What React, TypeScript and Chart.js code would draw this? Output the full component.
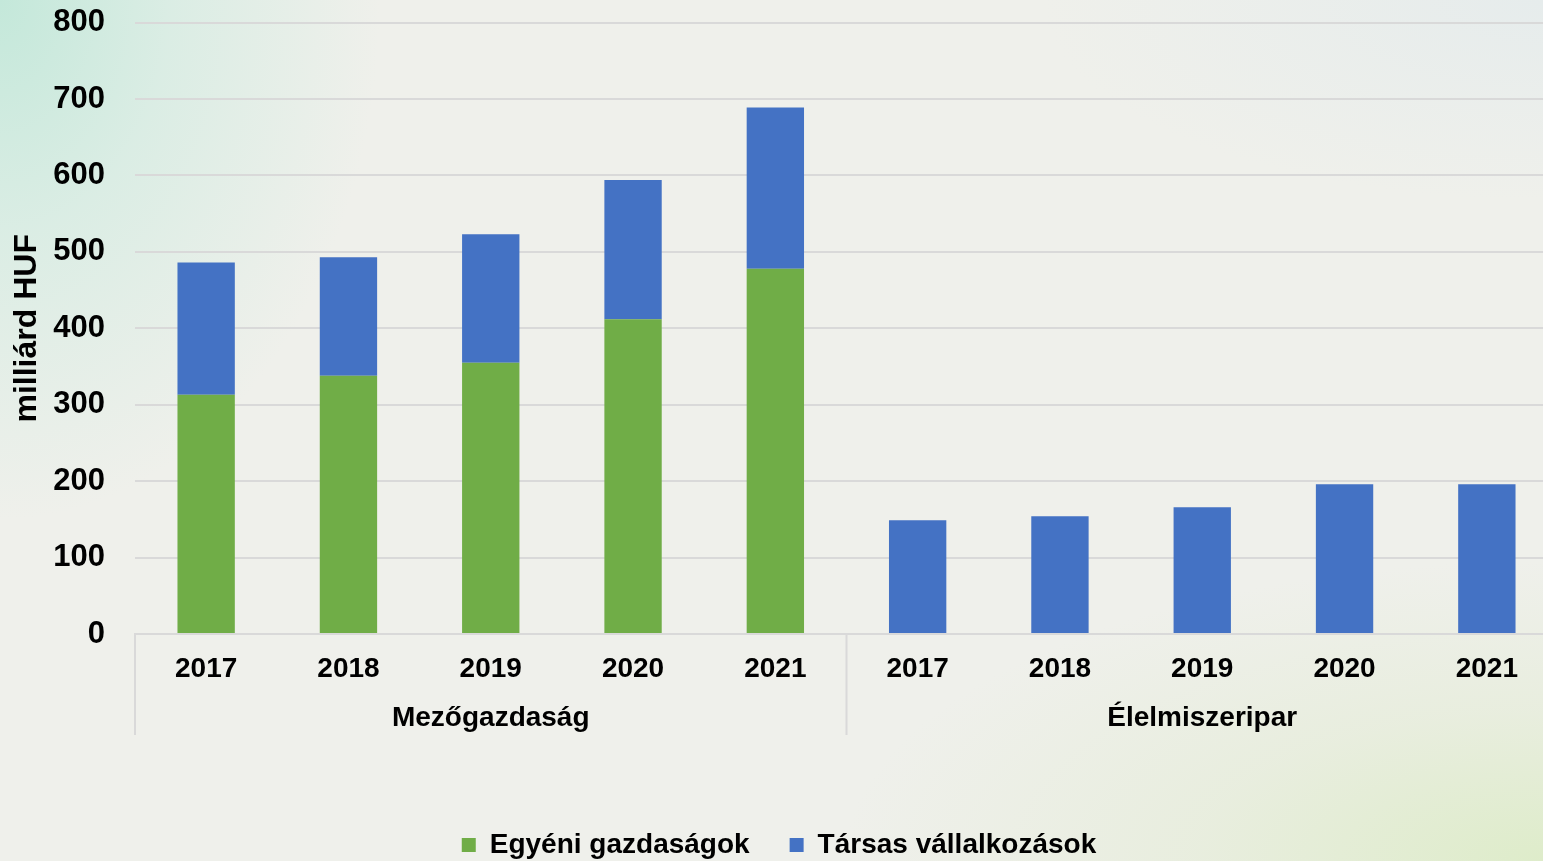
import React, { useEffect, useRef } from "react";
import { Chart, registerables } from "chart.js";

Chart.register(...registerables);

const years = ["2017", "2018", "2019", "2020", "2021"];
const groupNames = ["Mezőgazdaság", "Élelmiszeripar"];
const categories = [...years, ...years];
const egyeniGazdasagok = [313, 338, 355, 412, 478, 0, 0, 0, 0, 0];
const tarsasVallalkozasok = [173, 155, 168, 182, 211, 149, 154, 166, 196, 196];
const seriesNames = ["Egyéni gazdaságok", "Társas vállalkozások"];
const yTicks = [0, 100, 200, 300, 400, 500, 600, 700, 800];

const FONT = "'Liberation Sans', Arial, sans-serif";
const GRID = "#d9d9d9";

const SHIFT = 26;
const W = 1558;
const H = 869 + SHIFT;

const groupPlugin = {
  id: "groupLabels",
  afterDraw(chart: any) {
    const xs = chart.scales.x;
    const ctx = chart.ctx;
    const bottom = chart.chartArea.bottom;
    const n = categories.length;
    const half = (xs.getPixelForValue(1) - xs.getPixelForValue(0)) / 2;
    const per = n / groupNames.length;
    ctx.save();
    ctx.strokeStyle = GRID;
    ctx.lineWidth = 2;
    for (let g = 0; g <= groupNames.length; g++) {
      const px = g * per >= n ? xs.getPixelForValue(n - 1) + half : xs.getPixelForValue(g * per) - half;
      ctx.beginPath();
      ctx.moveTo(px, bottom);
      ctx.lineTo(px, bottom + 101);
      ctx.stroke();
    }
    ctx.fillStyle = "#000";
    ctx.font = `bold 28px ${FONT}`;
    ctx.textAlign = "center";
    ctx.textBaseline = "middle";
    groupNames.forEach((name, g) => {
      const a = xs.getPixelForValue(g * per) - half;
      const b = xs.getPixelForValue(g * per + per - 1) + half;
      ctx.fillText(name, (a + b) / 2, bottom + 84);
    });
    ctx.restore();
  },
};

export default function App() {
  const ref = useRef<HTMLCanvasElement | null>(null);
  useEffect(() => {
    if (!ref.current) return;
    const chart = new Chart(ref.current, {
      type: "bar",
      data: {
        labels: categories,
        datasets: [
          {
            label: seriesNames[0],
            data: egyeniGazdasagok,
            backgroundColor: "#70ad47",
            barPercentage: 0.403,
            categoryPercentage: 1,
          },
          {
            label: seriesNames[1],
            data: tarsasVallalkozasok,
            backgroundColor: "#4472c4",
            barPercentage: 0.403,
            categoryPercentage: 1,
          },
        ],
      },
      options: {
        animation: false,
        responsive: false,
        layout: { padding: { top: 0, right: 0, left: 0, bottom: 0 } },
        plugins: {
          tooltip: { enabled: false },
          legend: {
            position: "bottom",
            labels: {
              color: "#000",
              font: { family: FONT, size: 28, weight: "bold" },
              boxWidth: 14,
              boxHeight: 14,
              padding: 40,
            },
          },
        },
        scales: {
          x: {
            stacked: true,
            grid: { display: false, drawTicks: false },
            border: { display: true, color: GRID, width: 2 },
            ticks: {
              color: "#000",
              font: { family: FONT, size: 28, weight: "bold" },
              padding: 18,
              maxRotation: 0,
              autoSkip: false,
            },
            afterFit(scale: any) {
              scale.height = 157;
            },
          },
          y: {
            stacked: true,
            min: 0,
            max: 800,
            afterBuildTicks(scale: any) {
              scale.ticks = yTicks.map((v) => ({ value: v }));
            },
            grid: { color: GRID, lineWidth: 2, drawTicks: false },
            border: { display: false },
            ticks: {
              color: "#000",
              font: { family: FONT, size: 31, weight: "bold" },
              padding: 30,
            },
            title: {
              display: true,
              text: "milliárd HUF",
              color: "#000",
              font: { family: FONT, size: 32, weight: "bold" },
              padding: { top: 8, bottom: 0 },
            },
            afterFit(scale: any) {
              scale.width = 135;
            },
          },
        },
      },
      plugins: [groupPlugin],
    });
    return () => chart.destroy();
  }, []);

  return (
    <div
      style={{
        position: "fixed",
        left: 0,
        top: 0,
        width: 1543,
        height: 861,
        overflow: "hidden",
        background:
          "radial-gradient(ellipse 380px 520px at 0px 0px, rgba(196,232,218,1) 0%, rgba(212,236,226,0.75) 45%, rgba(239,240,235,0) 100%), radial-gradient(ellipse 700px 300px at 1543px 861px, rgba(222,236,202,1) 0%, rgba(228,236,214,0.6) 50%, rgba(239,240,235,0) 100%), radial-gradient(ellipse 500px 200px at 1543px 0px, rgba(230,236,236,1) 0%, rgba(239,240,235,0) 100%), #eff0eb",
      }}
    >
      <canvas
        ref={ref}
        width={W}
        height={H}
        style={{ display: "block", position: "absolute", left: 0, top: -SHIFT }}
      />
    </div>
  );
}
